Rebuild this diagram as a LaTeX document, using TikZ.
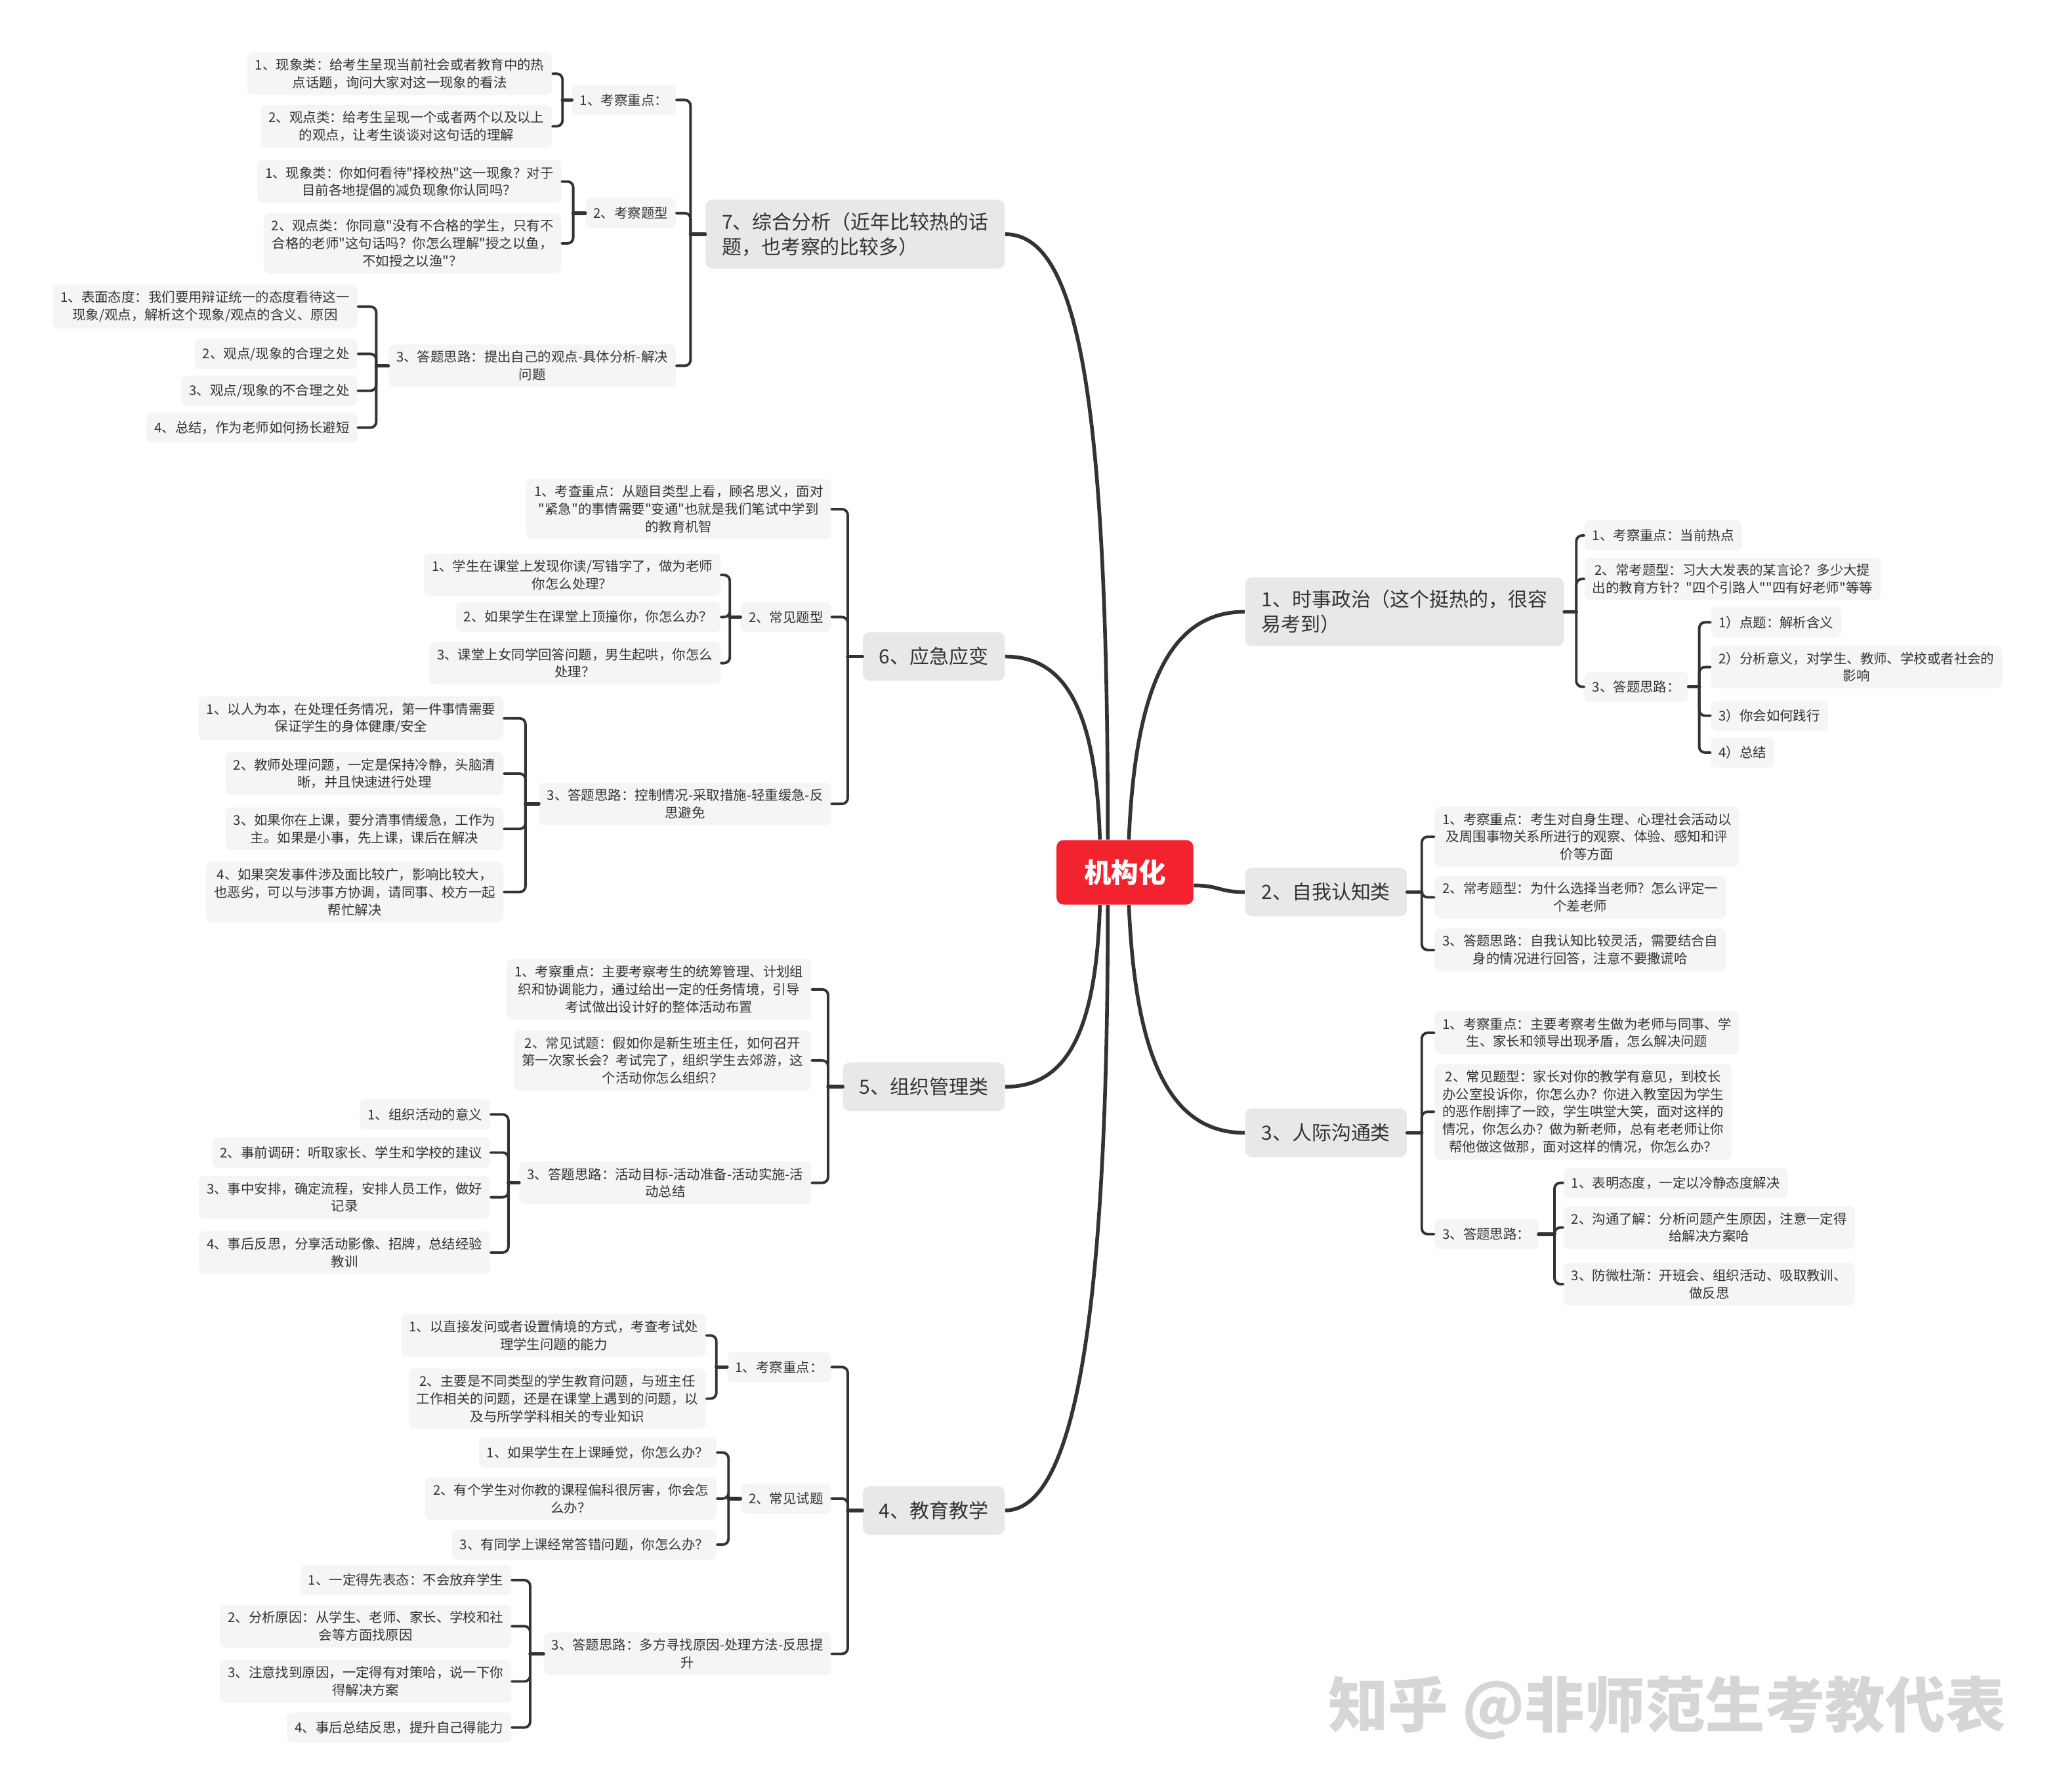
\documentclass[tikz,border=0pt]{standalone}
\usepackage{fontspec}
\setmainfont{Noto Sans CJK SC}[Ligatures=TeXOff]
\usepackage{tikz}
\definecolor{hubred}{HTML}{F2222E}
\definecolor{topicgray}{HTML}{E8E8E8}
\definecolor{leafgray}{HTML}{F5F5F5}
\definecolor{inkgray}{HTML}{333333}
\definecolor{markgray}{HTML}{D6D6D6}
\tikzstyle{hub} = [rectangle, rounded corners=3pt, minimum width=2.08cm, minimum height=0.98cm, text centered, fill=hubred, text=white, font=\fontsize{11.8}{14}\selectfont\bfseries]
\tikzstyle{topic} = [rectangle, rounded corners=3pt, minimum height=0.74cm, inner xsep=0.25cm, inner ysep=0.19cm, fill=topicgray, text=inkgray, align=left, font=\fontsize{8.5}{10.8}\selectfont]
\tikzstyle{leaf} = [rectangle, rounded corners=2.5pt, minimum height=0.46cm, inner xsep=0.12cm, inner ysep=0.096cm, fill=leafgray, text=inkgray, align=center, font=\fontsize{5.8}{7.6}\selectfont]
\tikzstyle{link} = [draw=inkgray, line width=1.6pt]
\tikzstyle{stem} = [draw=inkgray, line width=1.6pt, line cap=round]
\tikzstyle{fork} = [draw=inkgray, line width=1.1pt, line cap=round, rounded corners=2.5pt]
\tikzstyle{watermark} = [text=markgray, font=\fontsize{26}{30}\selectfont\bfseries]

\begin{document}
\begin{tikzpicture}[x=0.02cm, y=-0.02cm]
\fill [white] (0,0) rectangle (1568,1362);

\node (core) [hub] at (855,663) {机构化};

\node (t1) [topic, anchor=west] at (946,465) {1、时事政治（这个挺热的，很容\\易考到）};
\node (t1s1) [leaf, anchor=west] at (1204,407) {1、考察重点：当前热点};
\node (t1s2) [leaf, anchor=west] at (1204,440) {2、常考题型：习大大发表的某言论？多少大提\\出的教育方针？"四个引路人""四有好老师"等等};
\node (t1s3) [leaf, anchor=west] at (1204,522) {3、答题思路：};
\node (t1s3a) [leaf, anchor=west] at (1300,473) {1）点题：解析含义};
\node (t1s3b) [leaf, anchor=west] at (1300,507) {2）分析意义，对学生、教师、学校或者社会的\\影响};
\node (t1s3c) [leaf, anchor=west] at (1300,544) {3）你会如何践行};
\node (t1s3d) [leaf, anchor=west] at (1300,572) {4）总结};

\node (t2) [topic, anchor=west] at (946,678) {2、自我认知类};
\node (t2s1) [leaf, anchor=west] at (1090,636) {1、考察重点：考生对自身生理、心理社会活动以\\及周围事物关系所进行的观察、体验、感知和评\\价等方面};
\node (t2s2) [leaf, anchor=west] at (1090,682) {2、常考题型：为什么选择当老师？怎么评定一\\个差老师};
\node (t2s3) [leaf, anchor=west] at (1090,722) {3、答题思路：自我认知比较灵活，需要结合自\\身的情况进行回答，注意不要撒谎哈};

\node (t3) [topic, anchor=west] at (946,861) {3、人际沟通类};
\node (t3s1) [leaf, anchor=west] at (1090,785) {1、考察重点：主要考察考生做为老师与同事、学\\生、家长和领导出现矛盾，怎么解决问题};
\node (t3s2) [leaf, anchor=west] at (1090,845) {2、常见题型：家长对你的教学有意见，到校长\\办公室投诉你，你怎么办？你进入教室因为学生\\的恶作剧摔了一跤，学生哄堂大笑，面对这样的\\情况，你怎么办？做为新老师，总有老老师让你\\帮他做这做那，面对这样的情况，你怎么办？};
\node (t3s3) [leaf, anchor=west] at (1090,938) {3、答题思路：};
\node (t3s3a) [leaf, anchor=west] at (1188,899) {1、表明态度，一定以冷静态度解决};
\node (t3s3b) [leaf, anchor=west] at (1188,933) {2、沟通了解：分析问题产生原因，注意一定得\\给解决方案哈};
\node (t3s3c) [leaf, anchor=west] at (1188,976) {3、防微杜渐：开班会、组织活动、吸取教训、\\做反思};

\node (t7) [topic, anchor=east] at (764,178) {7、综合分析（近年比较热的话\\题，也考察的比较多）};
\node (t7s1) [leaf, anchor=east] at (514,76) {1、考察重点：};
\node (t7s1a) [leaf, anchor=east] at (420,56) {1、现象类：给考生呈现当前社会或者教育中的热\\点话题，询问大家对这一现象的看法};
\node (t7s1b) [leaf, anchor=east] at (420,96) {2、观点类：给考生呈现一个或者两个以及以上\\的观点，让考生谈谈对这句话的理解};
\node (t7s2) [leaf, anchor=east] at (514,162) {2、考察题型};
\node (t7s2a) [leaf, anchor=east] at (427,138) {1、现象类：你如何看待"择校热"这一现象？对于\\目前各地提倡的减负现象你认同吗？};
\node (t7s2b) [leaf, anchor=east] at (427,185) {2、观点类：你同意"没有不合格的学生，只有不\\合格的老师"这句话吗？你怎么理解"授之以鱼，\\不如授之以渔"？};
\node (t7s3) [leaf, anchor=east] at (514,278) {3、答题思路：提出自己的观点-具体分析-解决\\问题};
\node (t7s3a) [leaf, anchor=east] at (272,233) {1、表面态度：我们要用辩证统一的态度看待这一\\现象/观点，解析这个现象/观点的含义、原因};
\node (t7s3b) [leaf, anchor=east] at (272,269) {2、观点/现象的合理之处};
\node (t7s3c) [leaf, anchor=east] at (272,297) {3、观点/现象的不合理之处};
\node (t7s3d) [leaf, anchor=east] at (272,325) {4、总结，作为老师如何扬长避短};

\node (t6) [topic, anchor=east] at (764,499) {6、应急应变};
\node (t6s1) [leaf, anchor=east] at (632,387) {1、考查重点：从题目类型上看，顾名思义，面对\\"紧急"的事情需要"变通"也就是我们笔试中学到\\的教育机智};
\node (t6s2) [leaf, anchor=east] at (632,469) {2、常见题型};
\node (t6s2a) [leaf, anchor=east] at (548,437) {1、学生在课堂上发现你读/写错字了，做为老师\\你怎么处理？};
\node (t6s2b) [leaf, anchor=east] at (548,469) {2、如果学生在课堂上顶撞你，你怎么办？};
\node (t6s2c) [leaf, anchor=east] at (548,504) {3、课堂上女同学回答问题，男生起哄，你怎么\\处理？};
\node (t6s3) [leaf, anchor=east] at (632,611) {3、答题思路：控制情况-采取措施-轻重缓急-反\\思避免};
\node (t6s3a) [leaf, anchor=east] at (383,546) {1、以人为本，在处理任务情况，第一件事情需要\\保证学生的身体健康/安全};
\node (t6s3b) [leaf, anchor=east] at (383,588) {2、教师处理问题，一定是保持冷静，头脑清\\晰，并且快速进行处理};
\node (t6s3c) [leaf, anchor=east] at (383,630) {3、如果你在上课，要分清事情缓急，工作为\\主。如果是小事，先上课，课后在解决};
\node (t6s3d) [leaf, anchor=east] at (383,678) {4、如果突发事件涉及面比较广，影响比较大，\\也恶劣，可以与涉事方协调，请同事、校方一起\\帮忙解决};

\node (t5) [topic, anchor=east] at (764,826) {5、组织管理类};
\node (t5s1) [leaf, anchor=east] at (617,752) {1、考察重点：主要考察考生的统筹管理、计划组\\织和协调能力，通过给出一定的任务情境，引导\\考试做出设计好的整体活动布置};
\node (t5s2) [leaf, anchor=east] at (617,806) {2、常见试题：假如你是新生班主任，如何召开\\第一次家长会？考试完了，组织学生去郊游，这\\个活动你怎么组织？};
\node (t5s3) [leaf, anchor=east] at (617,899) {3、答题思路：活动目标-活动准备-活动实施-活\\动总结};
\node (t5s3a) [leaf, anchor=east] at (373,847) {1、组织活动的意义};
\node (t5s3b) [leaf, anchor=east] at (373,876) {2、事前调研：听取家长、学生和学校的建议};
\node (t5s3c) [leaf, anchor=east] at (373,910) {3、事中安排，确定流程，安排人员工作，做好\\记录};
\node (t5s3d) [leaf, anchor=east] at (373,952) {4、事后反思，分享活动影像、招牌，总结经验\\教训};

\node (t4) [topic, anchor=east] at (764,1148) {4、教育教学};
\node (t4s1) [leaf, anchor=east] at (632,1039) {1、考察重点：};
\node (t4s1a) [leaf, anchor=east] at (537,1015) {1、以直接发问或者设置情境的方式，考查考试处\\理学生问题的能力};
\node (t4s1b) [leaf, anchor=east] at (537,1063) {2、主要是不同类型的学生教育问题，与班主任\\工作相关的问题，还是在课堂上遇到的问题，以\\及与所学学科相关的专业知识};
\node (t4s2) [leaf, anchor=east] at (632,1139) {2、常见试题};
\node (t4s2a) [leaf, anchor=east] at (545,1104) {1、如果学生在上课睡觉，你怎么办？};
\node (t4s2b) [leaf, anchor=east] at (545,1139) {2、有个学生对你教的课程偏科很厉害，你会怎\\么办？};
\node (t4s2c) [leaf, anchor=east] at (545,1174) {3、有同学上课经常答错问题，你怎么办？};
\node (t4s3) [leaf, anchor=east] at (632,1257) {3、答题思路：多方寻找原因-处理方法-反思提\\升};
\node (t4s3a) [leaf, anchor=east] at (389,1201) {1、一定得先表态：不会放弃学生};
\node (t4s3b) [leaf, anchor=east] at (389,1236) {2、分析原因：从学生、老师、家长、学校和社\\会等方面找原因};
\node (t4s3c) [leaf, anchor=east] at (389,1278) {3、注意找到原因，一定得有对策哈，说一下你\\得解决方案};
\node (t4s3d) [leaf, anchor=east] at (389,1313) {4、事后总结反思，提升自己得能力};

\node (mark) [watermark] at (1267,1298) {知乎 @非师范生考教代表};

\draw [link] (core.north) ++(3,0) .. controls +(5,-120) and +(-55,0) .. (t1.west);
\draw [link] (core.east) ++(0,10) .. controls +(20,0) and +(-20,0) .. (t2.west);
\draw [link] (core.south) ++(3,0) .. controls +(5,120) and +(-55,0) .. (t3.west);
\draw [link] (core.north) ++(-13,0) .. controls +(0,-340) and +(55,0) .. (t7.east);
\draw [link] (core.north) ++(-19,0) .. controls +(-3,-100) and +(45,0) .. (t6.east);
\draw [link] (core.south) ++(-19,0) .. controls +(-3,100) and +(45,0) .. (t5.east);
\draw [link] (core.south) ++(-13,0) .. controls +(0,300) and +(55,0) .. (t4.east);

\path (t1.east) ++(9,0) coordinate (t1j);
\draw [stem] (t1.east) -- (t1j);
\draw [fork] (t1j) |- (t1s1.west);
\draw [fork] (t1j) |- (t1s2.west);
\draw [fork] (t1j) |- (t1s3.west);
\path (t1s3.east) ++(8,0) coordinate (t1s3j);
\draw [stem] (t1s3.east) -- (t1s3j);
\draw [fork] (t1s3j) |- (t1s3a.west);
\draw [fork] (t1s3j) |- (t1s3b.west);
\draw [fork] (t1s3j) |- (t1s3c.west);
\draw [fork] (t1s3j) |- (t1s3d.west);

\path (t2.east) ++(11,0) coordinate (t2j);
\draw [stem] (t2.east) -- (t2j);
\draw [fork] (t2j) |- (t2s1.west);
\draw [fork] (t2j) |- (t2s2.west);
\draw [fork] (t2j) |- (t2s3.west);

\path (t3.east) ++(11,0) coordinate (t3j);
\draw [stem] (t3.east) -- (t3j);
\draw [fork] (t3j) |- (t3s1.west);
\draw [fork] (t3j) |- (t3s2.west);
\draw [fork] (t3j) |- (t3s3.west);
\path (t3s3.east) ++(12,0) coordinate (t3s3j);
\draw [stem] (t3s3.east) -- (t3s3j);
\draw [fork] (t3s3j) |- (t3s3a.west);
\draw [fork] (t3s3j) |- (t3s3b.west);
\draw [fork] (t3s3j) |- (t3s3c.west);

\path (t7.west) ++(-11,0) coordinate (t7j);
\draw [stem] (t7.west) -- (t7j);
\draw [fork] (t7j) |- (t7s1.east);
\draw [fork] (t7j) |- (t7s2.east);
\draw [fork] (t7j) |- (t7s3.east);
\path (t7s1.west) ++(-7,0) coordinate (t7s1j);
\draw [stem] (t7s1.west) -- (t7s1j);
\draw [fork] (t7s1j) |- (t7s1a.east);
\draw [fork] (t7s1j) |- (t7s1b.east);
\path (t7s2.west) ++(-9,0) coordinate (t7s2j);
\draw [stem] (t7s2.west) -- (t7s2j);
\draw [fork] (t7s2j) |- (t7s2a.east);
\draw [fork] (t7s2j) |- (t7s2b.east);
\path (t7s3.west) ++(-9,0) coordinate (t7s3j);
\draw [stem] (t7s3.west) -- (t7s3j);
\draw [fork] (t7s3j) |- (t7s3a.east);
\draw [fork] (t7s3j) |- (t7s3b.east);
\draw [fork] (t7s3j) |- (t7s3c.east);
\draw [fork] (t7s3j) |- (t7s3d.east);

\path (t6.west) ++(-11,0) coordinate (t6j);
\draw [stem] (t6.west) -- (t6j);
\draw [fork] (t6j) |- (t6s1.east);
\draw [fork] (t6j) |- (t6s2.east);
\draw [fork] (t6j) |- (t6s3.east);
\path (t6s2.west) ++(-8,0) coordinate (t6s2j);
\draw [stem] (t6s2.west) -- (t6s2j);
\draw [fork] (t6s2j) |- (t6s2a.east);
\draw [fork] (t6s2j) |- (t6s2b.east);
\draw [fork] (t6s2j) |- (t6s2c.east);
\path (t6s3.west) ++(-10,0) coordinate (t6s3j);
\draw [stem] (t6s3.west) -- (t6s3j);
\draw [fork] (t6s3j) |- (t6s3a.east);
\draw [fork] (t6s3j) |- (t6s3b.east);
\draw [fork] (t6s3j) |- (t6s3c.east);
\draw [fork] (t6s3j) |- (t6s3d.east);

\path (t5.west) ++(-11,0) coordinate (t5j);
\draw [stem] (t5.west) -- (t5j);
\draw [fork] (t5j) |- (t5s1.east);
\draw [fork] (t5j) |- (t5s2.east);
\draw [fork] (t5j) |- (t5s3.east);
\path (t5s3.west) ++(-8,0) coordinate (t5s3j);
\draw [stem] (t5s3.west) -- (t5s3j);
\draw [fork] (t5s3j) |- (t5s3a.east);
\draw [fork] (t5s3j) |- (t5s3b.east);
\draw [fork] (t5s3j) |- (t5s3c.east);
\draw [fork] (t5s3j) |- (t5s3d.east);

\path (t4.west) ++(-11,0) coordinate (t4j);
\draw [stem] (t4.west) -- (t4j);
\draw [fork] (t4j) |- (t4s1.east);
\draw [fork] (t4j) |- (t4s2.east);
\draw [fork] (t4j) |- (t4s3.east);
\path (t4s1.west) ++(-8,0) coordinate (t4s1j);
\draw [stem] (t4s1.west) -- (t4s1j);
\draw [fork] (t4s1j) |- (t4s1a.east);
\draw [fork] (t4s1j) |- (t4s1b.east);
\path (t4s2.west) ++(-9,0) coordinate (t4s2j);
\draw [stem] (t4s2.west) -- (t4s2j);
\draw [fork] (t4s2j) |- (t4s2a.east);
\draw [fork] (t4s2j) |- (t4s2b.east);
\draw [fork] (t4s2j) |- (t4s2c.east);
\path (t4s3.west) ++(-10,0) coordinate (t4s3j);
\draw [stem] (t4s3.west) -- (t4s3j);
\draw [fork] (t4s3j) |- (t4s3a.east);
\draw [fork] (t4s3j) |- (t4s3b.east);
\draw [fork] (t4s3j) |- (t4s3c.east);
\draw [fork] (t4s3j) |- (t4s3d.east);
\end{tikzpicture}
\end{document}
